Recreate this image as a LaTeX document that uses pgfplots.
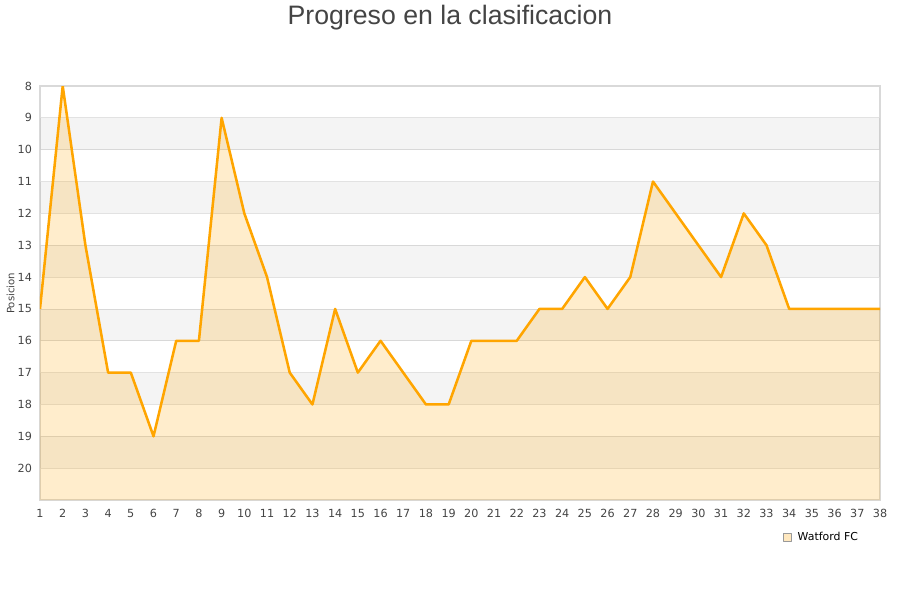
\documentclass[border=0pt]{standalone}
\usepackage{pgfplots}
\pgfplotsset{compat=1.18}
\usepackage{fontspec}
\setmainfont{DejaVu Sans}
\newfontfamily\titlefont{Liberation Sans}
\definecolor{lineorange}{HTML}{FFA500}
\definecolor{bordergray}{HTML}{D9D9D9}
\definecolor{gridgray}{HTML}{E2E2E2}
\definecolor{textgray}{HTML}{444444}

\begin{document}
\begin{tikzpicture}
\path[use as bounding box] (0,0) rectangle (675pt,450pt);
\node[font=\titlefont\fontsize{20}{24}\selectfont, text=textgray] at (337.5pt,437pt) {Progreso en la clasificacion};
\node[font=\fontsize{7.6}{9}\selectfont, text=textgray, rotate=90] at (8pt,230pt) {Posicion};
\begin{axis}[
    at={(30pt,75pt)}, anchor=south west,
    width=630pt, height=310.5pt, scale only axis,
    xmin=1, xmax=38, ymin=8, ymax=21,
    y dir=reverse,
    xtick={1,...,38}, ytick={8,...,20},
    major tick length=0pt,
    ymajorgrids, grid style={gridgray, line width=0.6pt},
    axis line style={bordergray, line width=0.8pt},
    tick label style={font=\fontsize{8.4}{10}\selectfont, text=textgray},
    /pgf/number format/assume math mode=true,
    xticklabel style={yshift=-3.5pt},
    yticklabel style={xshift=-2.5pt},
    legend style={at={(axis description cs:0.880,-0.09)}, anchor=west,
        draw=none, fill=none, font=\fontsize{8.2}{10}\selectfont, text=black},
    legend image code/.code={\draw[fill=lineorange!25, draw=gray!80, line width=0.4pt] (0pt,-2.7pt) rectangle (5.4pt,2.7pt);
        \path[draw=none, fill=none] (0pt,0pt) -- (8.5pt,0pt);},
    legend cell align=left,
]
% alternating background bands
\addplot[fill=black, fill opacity=0.045, draw=none, forget plot] coordinates {(1,9)(38,9)(38,10)(1,10)} -- cycle;
\addplot[fill=black, fill opacity=0.045, draw=none, forget plot] coordinates {(1,11)(38,11)(38,12)(1,12)} -- cycle;
\addplot[fill=black, fill opacity=0.045, draw=none, forget plot] coordinates {(1,13)(38,13)(38,14)(1,14)} -- cycle;
\addplot[fill=black, fill opacity=0.045, draw=none, forget plot] coordinates {(1,15)(38,15)(38,16)(1,16)} -- cycle;
\addplot[fill=black, fill opacity=0.045, draw=none, forget plot] coordinates {(1,17)(38,17)(38,18)(1,18)} -- cycle;
\addplot[fill=black, fill opacity=0.045, draw=none, forget plot] coordinates {(1,19)(38,19)(38,20)(1,20)} -- cycle;
% area under the line
\addplot[fill=lineorange, fill opacity=0.2, draw=none, forget plot] coordinates {
 (1,15)(2,8)(3,13)(4,17)(5,17)(6,19)(7,16)(8,16)(9,9)(10,12)
 (11,14)(12,17)(13,18)(14,15)(15,17)(16,16)(17,17)(18,18)(19,18)(20,16)
 (21,16)(22,16)(23,15)(24,15)(25,14)(26,15)(27,14)(28,11)(29,12)(30,13)
 (31,14)(32,12)(33,13)(34,15)(35,15)(36,15)(37,15)(38,15)
 (38,21)(1,21)} -- cycle;
% position line
\addplot[lineorange, line width=1.9pt, line join=round] coordinates {
 (1,15)(2,8)(3,13)(4,17)(5,17)(6,19)(7,16)(8,16)(9,9)(10,12)
 (11,14)(12,17)(13,18)(14,15)(15,17)(16,16)(17,17)(18,18)(19,18)(20,16)
 (21,16)(22,16)(23,15)(24,15)(25,14)(26,15)(27,14)(28,11)(29,12)(30,13)
 (31,14)(32,12)(33,13)(34,15)(35,15)(36,15)(37,15)(38,15)};
\addlegendentry{Watford FC}
\end{axis}
\end{tikzpicture}
\end{document}
